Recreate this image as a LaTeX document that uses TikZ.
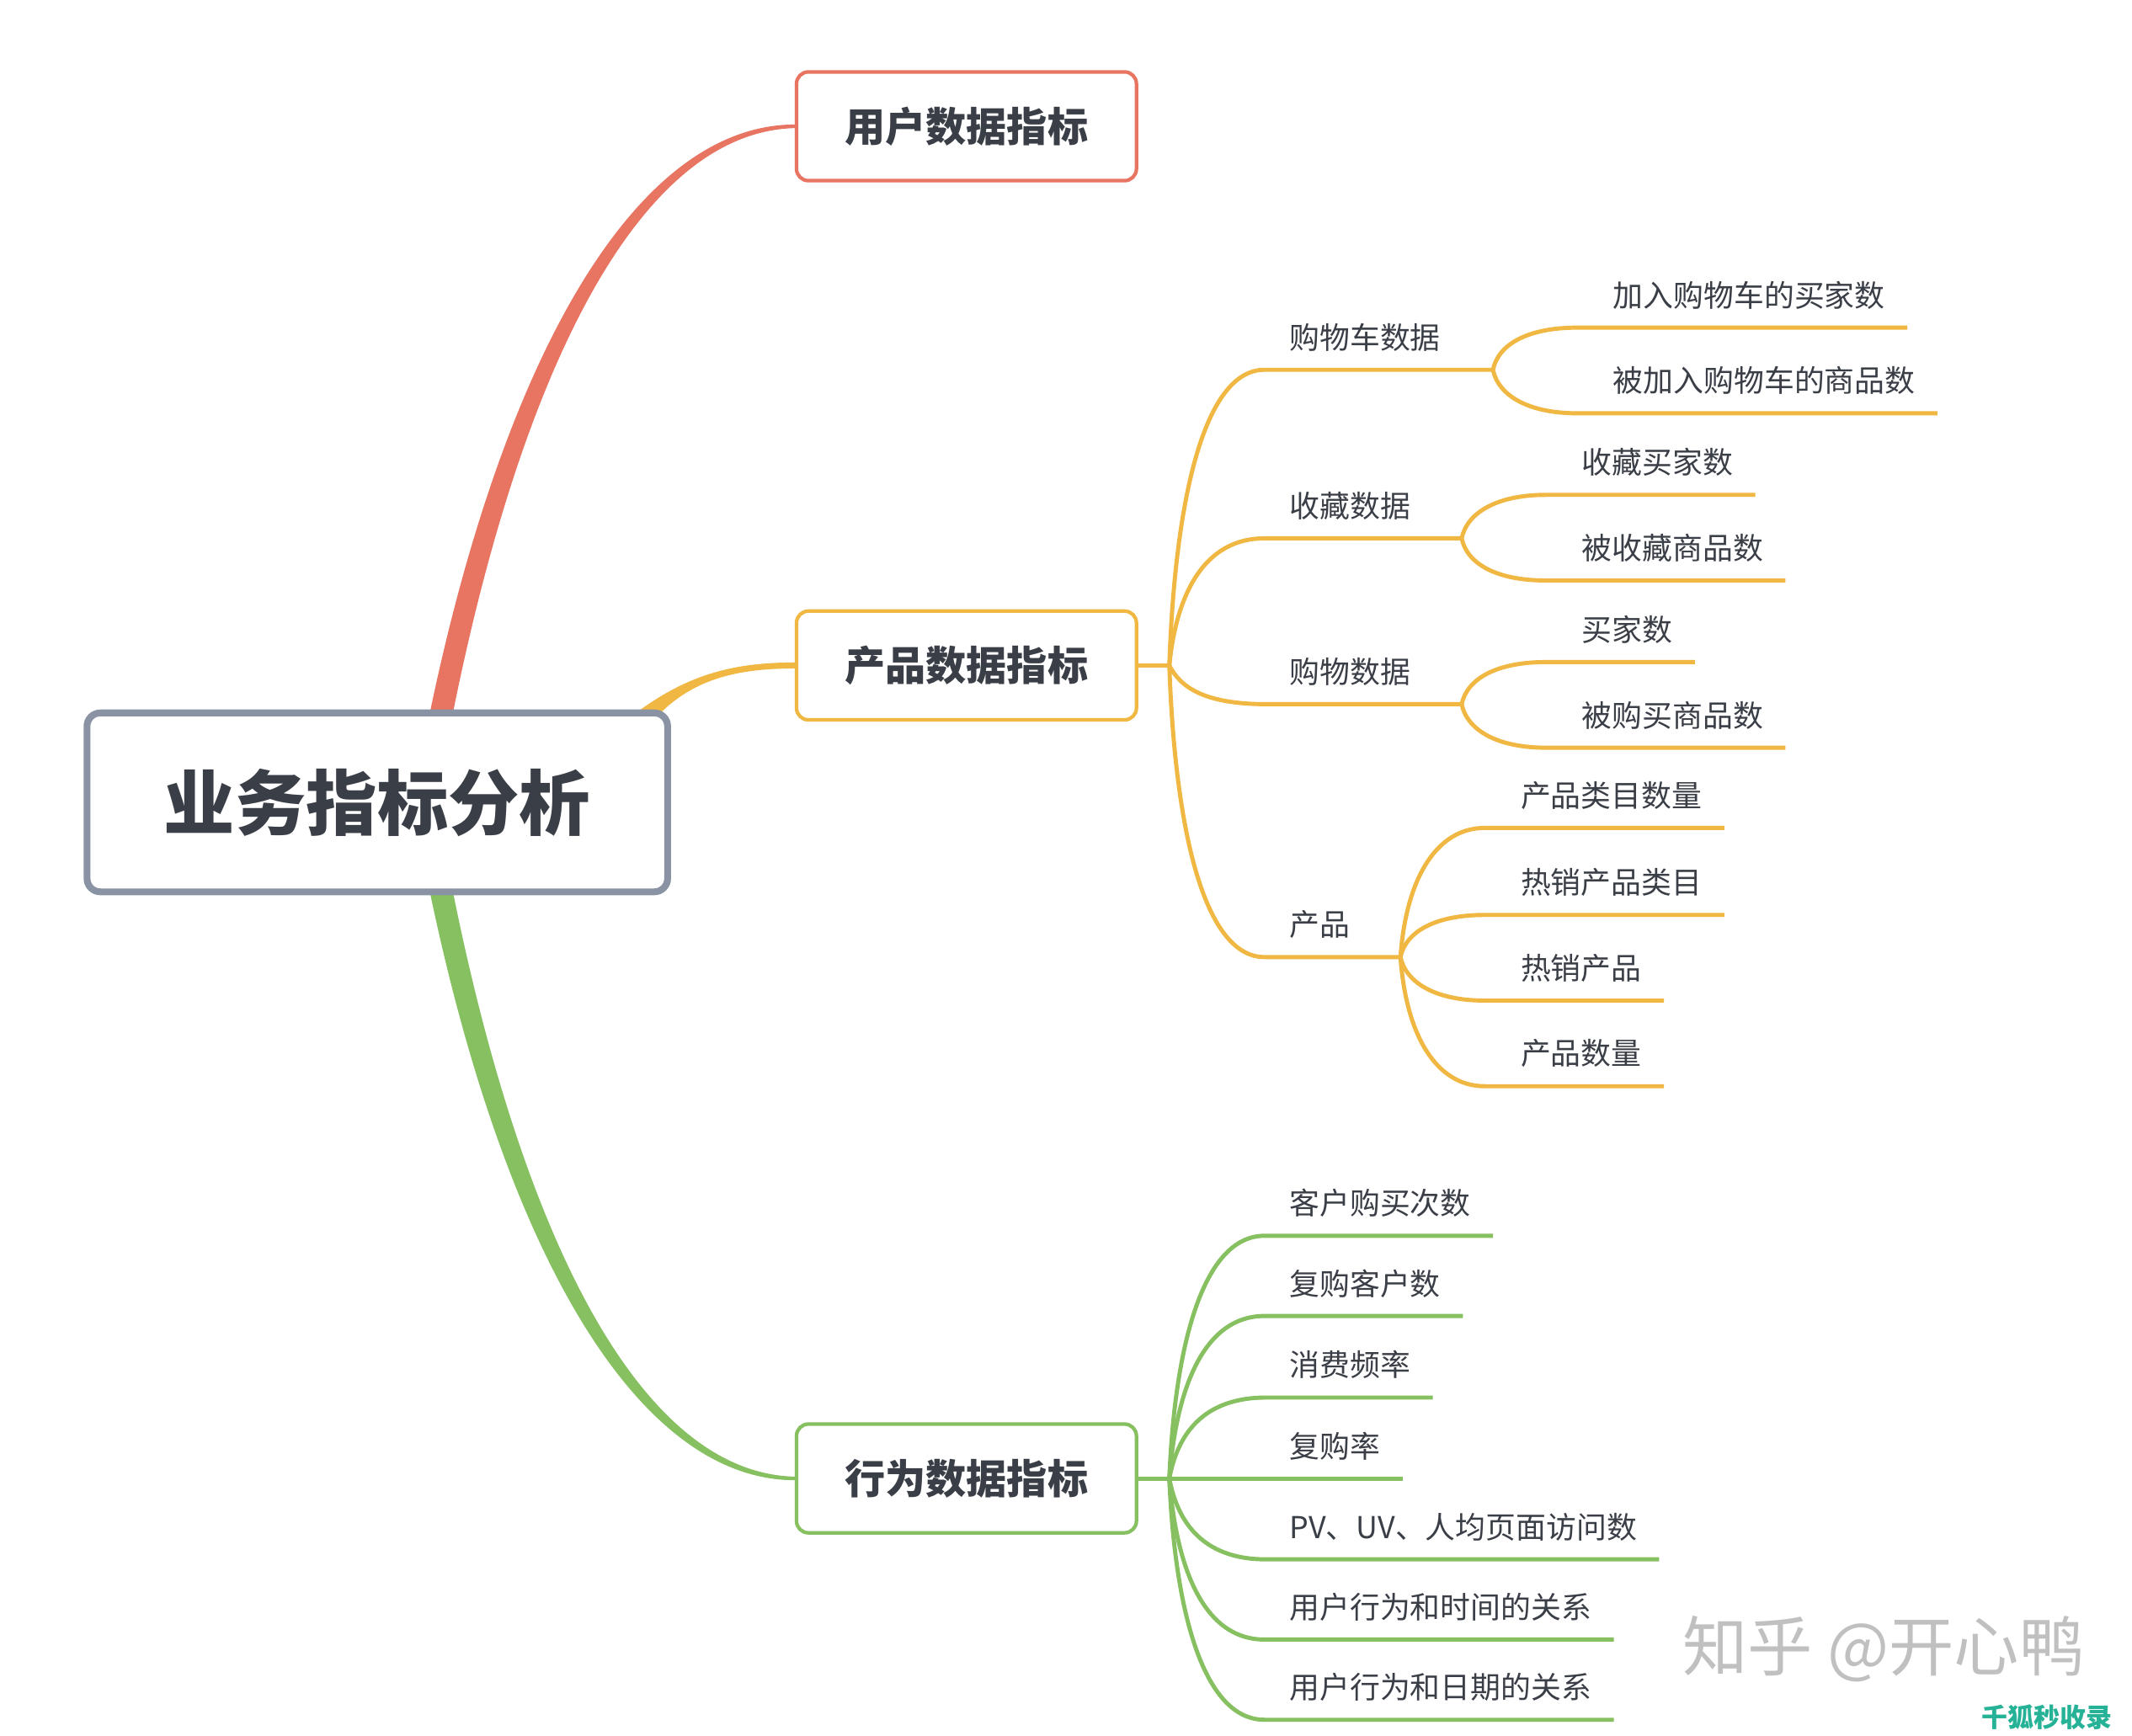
\documentclass[tikz,border=0pt]{standalone}
\usepackage{fontspec}
\setmainfont{Noto Sans CJK SC}
\usetikzlibrary{calc}
\definecolor{cred}{RGB}{232,117,98}
\definecolor{cyel}{RGB}{240,184,66}
\definecolor{cgrn}{RGB}{134,192,96}
\definecolor{cgray}{RGB}{137,147,163}
\definecolor{ctext}{RGB}{58,62,70}
\definecolor{cwm}{RGB}{192,192,192}
\definecolor{cteal}{RGB}{38,178,150}
\newdimen\myu
\myu=0.016148cm
\tikzset{
  lvone/.style={draw, line width=1.2pt, rounded corners=4pt, fill=white,
    minimum width=250\myu, minimum height=80\myu, inner sep=0pt,
    font=\fontsize{13.7pt}{16pt}\selectfont\bfseries, text=ctext},
  rootbox/.style={draw=cgray, line width=2.3pt, rounded corners=4.5pt, fill=white,
    minimum width=427\myu, minimum height=131.6\myu, inner sep=0pt,
    font=\fontsize{24pt}{28pt}\selectfont\bfseries, text=ctext},
  lbl/.style={anchor=west, inner sep=0pt, font=\fontsize{10.2pt}{12pt}\selectfont, text=ctext},
  yl/.style={draw=cyel, line width=1.4pt},
  gl/.style={draw=cgrn, line width=1.4pt},
}
\begin{document}
\begin{tikzpicture}[x=0.016148cm, y=-0.016148cm]
\useasboundingbox (0,0) rectangle (1568,1276.9);
\fill[white] (0,0) rectangle (1568,1276.9);

% invisible copies of the main boxes, for the branch end points
\path (277.5,590.2) node[rootbox, draw=none, fill=none, text=white] (rootp) {\phantom{业务指标分析}};
\path (710.8,92.9) node[lvone, draw=none, fill=none] (userp) {};
\path (710.8,489.5) node[lvone, draw=none, fill=none] (prodp) {};
\path (710.8,1087.5) node[lvone, draw=none, fill=none] (behp) {};

% tapered main branches
\fill[cred] ($(rootp.north)+(37.5,8)$) .. controls (370,262) and (468,90) .. ($(userp.west)+(2,-1.3)$)
  -- ($(userp.west)+(2,1.3)$) .. controls (472,95) and (384,268) .. ($(rootp.north)+(54.5,8)$) -- cycle;
\fill[cgrn] ($(rootp.south)+(37.5,-8)$) .. controls (370,918) and (468,1090.5) .. ($(behp.west)+(2,1.3)$)
  -- ($(behp.west)+(2,-1.3)$) .. controls (472,1085.5) and (384,912) .. ($(rootp.south)+(54.5,-8)$) -- cycle;
\fill[cyel] (458,532) .. controls (500,498) and (535,487) .. ($(prodp.west)+(2,-2.2)$)
  -- ($(prodp.west)+(2,2.2)$) .. controls (540,491.5) and (505,500) .. (477,534) -- cycle;

% boxes
\node[rootbox] (root) at (277.5,590.2) {业务指标分析};
\node[lvone, draw=cred] (user) at (710.8,92.9) {用户数据指标};
\node[lvone, draw=cyel] (prod) at (710.8,489.5) {产品数据指标};
\node[lvone, draw=cgrn] (beh) at (710.8,1087.5) {行为数据指标};

% ---------------- yellow subtree ----------------
\coordinate (ph) at (860,489.5);
\draw[yl] (prod.east) -- (ph);

\coordinate (a) at (930,272); \coordinate (af) at (1098,272);
\node[lbl] (at) at (948,248) {购物车数据};
\draw[yl] (ph) .. controls (864,370) and (885,272) .. (a) -- (af);
\coordinate (a1) at (1160,241);
\node[lbl] (a1t) at (1186,217) {加入购物车的买家数};
\draw[yl] (af) .. controls (1102,253) and (1124,241) .. (a1) -- ($(a1t.east |- a1)+(16,0)$);
\coordinate (a2) at (1160,304);
\node[lbl] (a2t) at (1186,280) {被加入购物车的商品数};
\draw[yl] (af) .. controls (1102,291) and (1124,304) .. (a2) -- ($(a2t.east |- a2)+(16,0)$);

\coordinate (b) at (930,396); \coordinate (bf) at (1075,396);
\node[lbl] (bt) at (948,372) {收藏数据};
\draw[yl] (ph) .. controls (865,438) and (885,396) .. (b) -- (bf);
\coordinate (b1) at (1137,364);
\node[lbl] (b1t) at (1163,340) {收藏买家数};
\draw[yl] (bf) .. controls (1079,377) and (1101,364) .. (b1) -- ($(b1t.east |- b1)+(16,0)$);
\coordinate (b2) at (1137,427);
\node[lbl] (b2t) at (1163,403) {被收藏商品数};
\draw[yl] (bf) .. controls (1079,415) and (1101,427) .. (b2) -- ($(b2t.east |- b2)+(16,0)$);

\coordinate (c) at (932,518); \coordinate (cf) at (1075,518);
\node[lbl] (ct) at (948,494) {购物数据};
\draw[yl] (ph) .. controls (868,505.2) and (885,518) .. (c) -- (cf);
\coordinate (c1) at (1137,487);
\node[lbl] (c1t) at (1163,463) {买家数};
\draw[yl] (cf) .. controls (1079,499) and (1101,487) .. (c1) -- ($(c1t.east |- c1)+(16,0)$);
\coordinate (c2) at (1137,550);
\node[lbl] (c2t) at (1163,526) {被购买商品数};
\draw[yl] (cf) .. controls (1079,537) and (1101,550) .. (c2) -- ($(c2t.east |- c2)+(16,0)$);

\coordinate (d) at (930,704); \coordinate (df) at (1030,704);
\node[lbl] (dt) at (948,680) {产品};
\draw[yl] (ph) .. controls (864,608) and (885,704) .. (d) -- (df);
\coordinate (d1) at (1092,609);
\node[lbl] (d1t) at (1118,585) {产品类目数量};
\draw[yl] (df) .. controls (1034,647) and (1056,609) .. (d1) -- ($(d1t.east |- d1)+(16,0)$);
\coordinate (d2) at (1092,673);
\node[lbl] (d2t) at (1118,649) {热销产品类目};
\draw[yl] (df) .. controls (1034,685) and (1056,673) .. (d2) -- ($(d2t.east |- d2)+(16,0)$);
\coordinate (d3) at (1092,736);
\node[lbl] (d3t) at (1118,712) {热销产品};
\draw[yl] (df) .. controls (1034,723) and (1056,736) .. (d3) -- ($(d3t.east |- d3)+(16,0)$);
\coordinate (d4) at (1092,799);
\node[lbl] (d4t) at (1118,775) {产品数量};
\draw[yl] (df) .. controls (1034,761) and (1056,799) .. (d4) -- ($(d4t.east |- d4)+(16,0)$);

% ---------------- green subtree ----------------
\coordinate (gh) at (860,1087.5);
\draw[gl] (beh.east) -- (gh);

\coordinate (g1) at (930,909);
\node[lbl] (g1t) at (948,885) {客户购买次数};
\draw[gl] (gh) .. controls (864,989) and (885,909) .. (g1) -- ($(g1t.east |- g1)+(16,0)$);
\coordinate (g2) at (930,968);
\node[lbl] (g2t) at (948,944) {复购客户数};
\draw[gl] (gh) .. controls (865,1022) and (885,968) .. (g2) -- ($(g2t.east |- g2)+(16,0)$);
\coordinate (g3) at (931,1028);
\node[lbl] (g3t) at (948,1004) {消费频率};
\draw[gl] (gh) .. controls (866,1055) and (885,1028) .. (g3) -- ($(g3t.east |- g3)+(16,0)$);
\node[lbl] (g4t) at (948,1063.5) {复购率};
\draw[gl] (gh) -- ($(g4t.east |- gh)+(16,0)$);
\coordinate (g5) at (931,1147);
\node[lbl] (g5t) at (948,1123) {PV、UV、人均页面访问数};
\draw[gl] (gh) .. controls (866,1120) and (885,1147) .. (g5) -- ($(g5t.east |- g5)+(16,0)$);
\coordinate (g6) at (930,1206);
\node[lbl] (g6t) at (948,1182) {用户行为和时间的关系};
\draw[gl] (gh) .. controls (865,1153) and (885,1206) .. (g6) -- ($(g6t.east |- g6)+(16,0)$);
\coordinate (g7) at (930,1265);
\node[lbl] (g7t) at (948,1241) {用户行为和日期的关系};
\draw[gl] (gh) .. controls (864,1185) and (885,1265) .. (g7) -- ($(g7t.east |- g7)+(16,0)$);

% watermarks
\node[anchor=west, inner sep=0pt, text=cwm, font=\fontsize{22pt}{25pt}\selectfont] (wm) at (1237,1213) {知乎 @开心鸭};
\node[anchor=west, inner sep=0pt, text=cteal, font=\fontsize{8.8pt}{10pt}\selectfont\bfseries] (wm2) at (1457,1263) {千狐秒收录};
\end{tikzpicture}
\end{document}
